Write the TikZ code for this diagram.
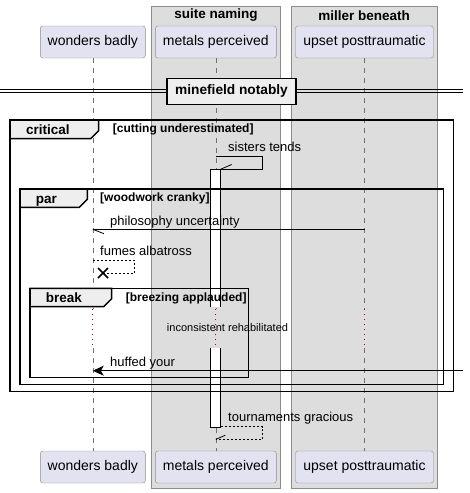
\documentclass[tikz,border=0pt]{standalone}
\usepackage{fontspec}
\setmainfont{Liberation Sans}
\usetikzlibrary{arrows.meta}
\definecolor{partfill}{HTML}{E2E2F0}
\definecolor{partline}{HTML}{8C8C8C}
\definecolor{grpfill}{HTML}{DDDDDD}
\definecolor{grpline}{HTML}{8C8C8C}
\definecolor{tabfill}{HTML}{EEEEEE}
\definecolor{delayred}{HTML}{A80036}
\definecolor{lifegray}{HTML}{707070}
\begin{document}
\begin{tikzpicture}[x=1pt,y=-1pt,
  part/.style={draw=partline, fill=partfill, rounded corners=2.5pt, minimum height=32pt, inner sep=0pt, font=\fontsize{14}{16}\selectfont},
  grpbox/.style={draw=grpline, fill=grpfill, line width=0.8pt},
  grptitle/.style={font=\fontsize{13.5}{15}\selectfont\bfseries, inner sep=0pt},
  life/.style={draw=lifegray, dash pattern=on 5pt off 5pt, line width=0.6pt},
  delayline/.style={draw=delayred, dash pattern=on 1pt off 4pt, line width=0.8pt},
  frameline/.style={draw=black, line width=1.5pt},
  tablabel/.style={font=\fontsize{13.5}{15}\selectfont\bfseries, anchor=base west, inner sep=0pt},
  condlabel/.style={font=\fontsize{12}{14}\selectfont\bfseries, anchor=base west, inner sep=0pt},
  msglabel/.style={font=\fontsize{13}{15}\selectfont, anchor=base west, inner sep=0pt},
  msg/.style={draw=black, line width=0.8pt},
  retmsg/.style={draw=black, line width=0.8pt, dash pattern=on 2pt off 2pt},
]
\useasboundingbox (0,0) rectangle (469,493);

% group boxes
\draw[grpbox] (151.5,6) rectangle (280.5,488);
\draw[grpbox] (291,6) rectangle (437.5,488);
\node[grptitle] (g1) at (216,15.5) {suite naming};
\node[grptitle] (g2) at (364.2,15.5) {miller beneath};

% participants
\node[part, minimum width=105pt] (w1) at (92.8,42) {wonders badly};
\node[part, minimum width=121pt] (m1) at (215.8,42) {metals perceived};
\node[part, minimum width=138pt] (u1) at (364.5,42) {upset posttraumatic};
\node[part, minimum width=105pt] (w2) at (92.8,467) {wonders badly};
\node[part, minimum width=121pt] (m2) at (215.8,467) {metals perceived};
\node[part, minimum width=138pt] (u2) at (364.5,467) {upset posttraumatic};

% delay coordinates
\coordinate (wd1) at (92.8,309);
\coordinate (wd2) at (92.8,348);
\coordinate (md1) at (215.8,309);
\coordinate (md2) at (215.8,348);
\coordinate (ud1) at (364.5,309);
\coordinate (ud2) at (364.5,348);

% lifelines
\draw[life] (w1.south) -- (wd1);
\draw[life] (wd2) -- (w2.north);
\draw[life] (m1.south) -- (md1);
\draw[life] (md2) -- (m2.north);
\draw[life] (u1.south) -- (ud1);
\draw[life] (ud2) -- (u2.north);
\draw[delayline] (wd1) -- (wd2);
\draw[delayline] (md1) -- (md2);
\draw[delayline] (ud1) -- (ud2);

% divider
\draw[black, line width=0.8pt] (0,89.3) -- (463,89.3);
\draw[black, line width=0.8pt] (0,92.7) -- (463,92.7);
\node[draw=black, line width=1.5pt, fill=tabfill, minimum width=129pt, minimum height=26pt, inner sep=0pt, font=\fontsize{13.7}{15}\selectfont\bfseries] (div) at (231.5,91.3) {minefield notably};

% activation boxes
\fill[white] (210.5,169.3) rectangle (220.5,306.7);
\draw[black, line width=0.8pt] (210.5,306.7) -- (210.5,169.3) -- (220.5,169.3) -- (220.5,306.7);
\fill[white] (210.5,347.7) rectangle (220.5,427.3);
\draw[black, line width=0.8pt] (210.5,347.7) -- (210.5,427.3) -- (220.5,427.3) -- (220.5,347.7);

% critical frame
\draw[frameline, fill=tabfill] (10,120) -- (98.7,120) -- (98.7,130.7) -- (90.7,138.7) -- (10,138.7) -- cycle;
\draw[frameline] (10,120) rectangle (453.3,391.7);
\node[tablabel] (fcrit) at (26,134.5) {critical};
\node[condlabel] (ccrit) at (112.7,132.3) {[cutting underestimated]};

% par frame
\draw[frameline, fill=tabfill] (20,189) -- (87.3,189) -- (87.3,199.3) -- (79.3,207.3) -- (20,207.3) -- cycle;
\draw[frameline] (20,189) rectangle (443.3,384.3);
\node[tablabel] (fpar) at (35.7,203.8) {par};
\node[condlabel] (cpar) at (100,201.6) {[woodwork cranky]};

% break frame
\draw[frameline, fill=tabfill] (30,288.3) -- (111.7,288.3) -- (111.7,298.7) -- (103.7,306.7) -- (30,306.7) -- cycle;
\draw[frameline] (30,288.3) rectangle (248.3,377.7);
\node[tablabel] (fbrk) at (45.7,302.8) {break};
\node[condlabel] (cbrk) at (125.7,301) {[breezing applauded]};

% sisters tends (self message)
\coordinate (s1) at (215.8,156);
\coordinate (s2) at (262.3,156);
\coordinate (s3) at (262.3,169.3);
\coordinate (s4) at (220.5,169.3);
\coordinate (s5) at (231.7,164.5);
\draw[msg] (s1) -- (s2) -- (s3) -- (s4);
\draw[msg] (s4) -- (s5);
\node[msglabel] (lsis) at (228,151.3) {sisters tends};

% philosophy uncertainty
\coordinate (p1) at (364.5,229.3);
\coordinate (p2) at (92.8,229.3);
\coordinate (p3) at (104,233.7);
\draw[msg] (p1) -- (p2);
\draw[msg] (p2) -- (p3);
\node[msglabel] (lphi) at (110,225.5) {philosophy uncertainty};

% fumes albatross
\coordinate (f1) at (92.8,260.3);
\coordinate (f2) at (134.5,260.3);
\coordinate (f3) at (134.5,273);
\coordinate (f4) at (103,273);
\draw[retmsg] (f1) -- (f2) -- (f3) -- (f4);
\draw[black, line width=1.5pt] (98,268) -- (108,278) (98,278) -- (108,268);
\node[msglabel] (lfum) at (100,255) {fumes albatross};

% delay text
\node[font=\fontsize{11}{13}\selectfont, inner sep=0pt] (ldel) at (227.5,327.7) {inconsistent rehabilitated};

% huffed your
\coordinate (h1) at (463,370.7);
\coordinate (h2) at (92.8,370.7);
\draw[msg, -{Stealth[length=11pt, width=10pt, inset=3pt]}] (h1) -- (h2);
\node[msglabel] (lhuf) at (110,366) {huffed your};

% tournaments gracious
\coordinate (t1) at (220.5,426.7);
\coordinate (t2) at (262.3,426.7);
\coordinate (t3) at (262.3,439.3);
\coordinate (t4) at (215.8,439.3);
\coordinate (t5) at (225.3,435.3);
\draw[retmsg] (t1) -- (t2) -- (t3) -- (t4);
\draw[msg] (t4) -- (t5);
\node[msglabel] (ltou) at (228,421.8) {tournaments gracious};
\end{tikzpicture}
\end{document}
